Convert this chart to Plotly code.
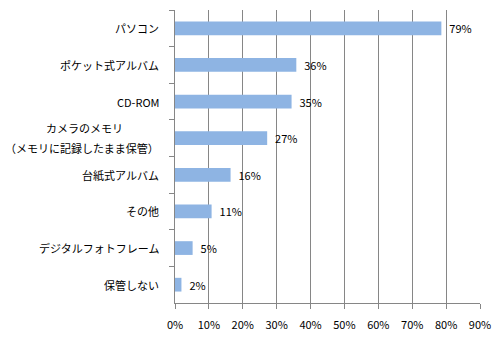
import plotly.graph_objects as go

categories = ["パソコン", "ポケット式アルバム", "CD-ROM",
              "カメラのメモリ<br>（メモリに記録したまま保管）",
              "台紙式アルバム", "その他", "デジタルフォトフレーム", "保管しない"]
values = [78.6, 35.8, 34.4, 27.2, 16.4, 10.8, 5.2, 1.9]
value_labels = ["79%", "36%", "35%", "27%", "16%", "11%", "5%", "2%"]
tick_vals = [0, 10, 20, 30, 40, 50, 60, 70, 80, 90]
tick_text = ["0%", "10%", "20%", "30%", "40%", "50%", "60%", "70%", "80%", "90%"]

font = "Noto Sans CJK JP"

fig = go.Figure(go.Bar(
    x=values, y=categories, orientation="h",
    marker=dict(color="#8EB4E3", line=dict(width=0)),
    text=["\u00a0\u00a0" + t for t in value_labels],
    textposition="outside", cliponaxis=False, constraintext="none",
    textfont=dict(family=font, size=11, color="#000000"),
    width=0.375,
))

# Category labels: right-aligned; multi-line labels are centred on their widest line
for c in categories:
    lines = c.split("<br>")
    n = len(lines)
    widest = max(len(l) for l in lines)
    for i, line in enumerate(lines):
        shift = (i - (n - 1) / 2) * -20
        is_wide = n == 1 or len(line) == widest
        fig.add_annotation(
            x=0, xref="paper", y=c, yref="y", text=line,
            xanchor="right" if is_wide else "center",
            yanchor="middle", align="center",
            xshift=-14 if is_wide else -14 - 77,
            yshift=shift,
            showarrow=False, font=dict(family=font, size=11, color="#000000"),
        )

fig.update_layout(
    width=500, height=340,
    margin=dict(l=175, r=20, t=10, b=37, autoexpand=False),
    plot_bgcolor="white", paper_bgcolor="white",
    showlegend=False,
    font=dict(family=font, size=11, color="#000000"),
)
fig.update_xaxes(
    range=[0, 90], tickvals=tick_vals, ticktext=tick_text,
    showgrid=True, gridcolor="#868686", gridwidth=1,
    showline=True, linecolor="#868686",
    ticks="outside", ticklen=5, tickcolor="#868686",
    tickfont=dict(size=11, family=font), ticklabelstandoff=7,
    zeroline=False, automargin=False,
)
fig.update_yaxes(
    autorange="reversed", categoryorder="array", categoryarray=categories,
    showline=True, linecolor="#868686",
    ticks="outside", ticklen=5, tickcolor="#868686", tickson="boundaries",
    showticklabels=False, automargin=False,
    showgrid=False,
)

fig.write_html("out.html")
